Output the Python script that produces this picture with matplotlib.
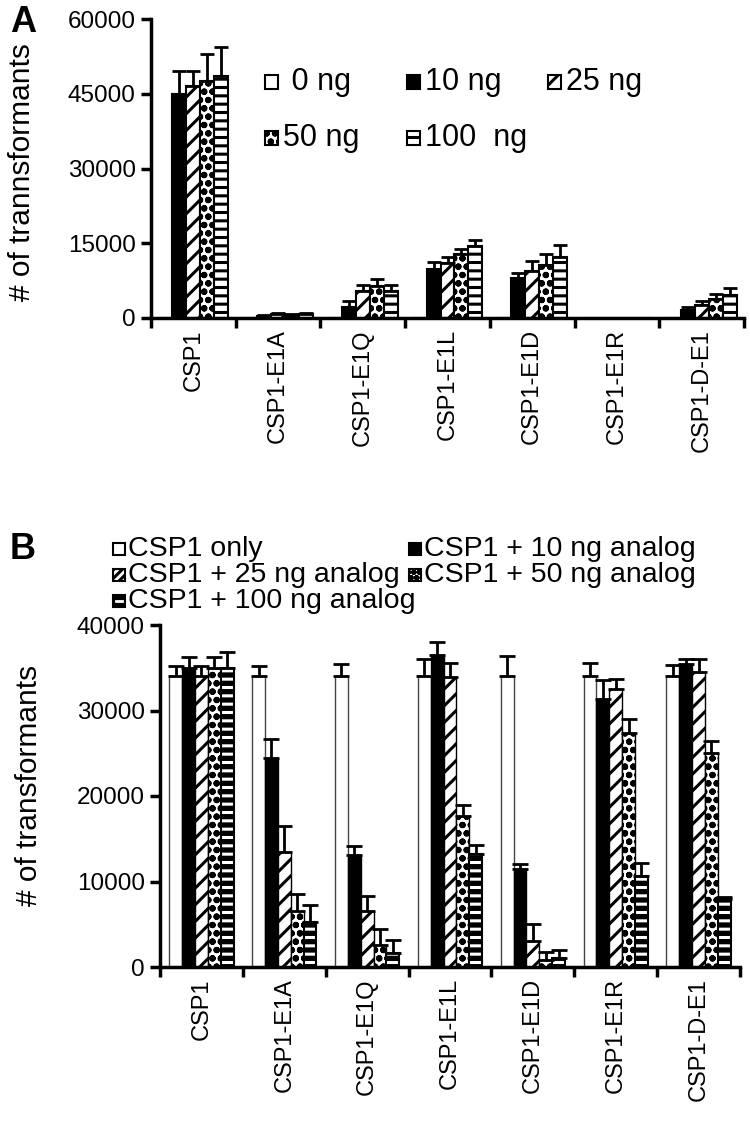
import numpy as np
import matplotlib
matplotlib.use("Agg")
import matplotlib.pyplot as plt
from matplotlib.patches import Rectangle
from matplotlib.lines import Line2D

plt.rcParams["font.family"] = ["Liberation Sans", "DejaVu Sans"]
plt.rcParams["hatch.linewidth"] = 2.2

# ─── DATA ───────────────────────────────────────────────────────────────────

CATEGORIES = ["CSP1", "CSP1-E1A", "CSP1-E1Q", "CSP1-E1L", "CSP1-E1D", "CSP1-E1R", "CSP1-D-E1"]

# Panel A: analog alone, doses 0 / 10 / 25 / 50 / 100 ng
A_LABELS = [" 0 ng", "10 ng", "25 ng", "50 ng", "100  ng"]
A_0NG = [0, 0, 0, 0, 0, 0, 0]
A_10NG = [45000, 400, 2300, 9900, 8100, 0, 1600]
A_25NG = [46500, 800, 5500, 11100, 9400, 0, 2700]
A_50NG = [47500, 700, 6500, 12900, 10700, 0, 3800]
A_100NG = [48500, 800, 5500, 14400, 12200, 0, 4700]
A_0NG_ERR = [0, 0, 0, 0, 0, 0, 0]
A_10NG_ERR = [4500, 150, 1100, 1300, 1000, 0, 600]
A_25NG_ERR = [3000, 150, 1200, 1100, 2000, 0, 800]
A_50NG_ERR = [5500, 150, 1300, 1000, 2200, 0, 1000]
A_100NG_ERR = [5800, 150, 1100, 1200, 2500, 0, 1300]

# Panel B: CSP1 plus analog
B_LABELS = ["CSP1 only", "CSP1 + 10 ng analog", "CSP1 + 25 ng analog",
            "CSP1 + 50 ng analog", "CSP1 + 100 ng analog"]
B_ONLY = [34000, 34000, 34000, 34000, 34000, 34000, 34000]
B_10NG = [35000, 24500, 13100, 36500, 11500, 31400, 35400]
B_25NG = [34000, 13500, 6500, 33900, 3000, 32500, 34500]
B_50NG = [35000, 6500, 2600, 17700, 800, 27400, 25000]
B_100NG = [35000, 5300, 1600, 13200, 1000, 10700, 8000]
B_ONLY_ERR = [1200, 1200, 1400, 2000, 2400, 1600, 1300]
B_10NG_ERR = [1200, 2200, 1000, 1500, 500, 2200, 600]
B_25NG_ERR = [1200, 3000, 1800, 1700, 2000, 1200, 1500]
B_50NG_ERR = [1300, 2000, 1800, 1200, 1000, 1600, 1400]
B_100NG_ERR = [1800, 1900, 1500, 1100, 1000, 1500, 200]

W, H = 750, 1142
FS_TICK = 17.5
FS_CAT = 17
FS_YLAB = 21.5


def style_axes(ax, ymax, step):
    n = len(CATEGORIES)
    ax.set_xlim(0, n)
    ax.set_ylim(0, ymax)
    ax.set_yticks(np.arange(0, ymax + 1, step))
    for s in ["top", "right"]:
        ax.spines[s].set_visible(False)
    for s in ["left", "bottom"]:
        ax.spines[s].set_linewidth(2.5)
    ax.set_xticks(np.arange(0, n + 1))
    ax.set_xticklabels([])
    ax.set_xticks(np.arange(n) + 0.5, minor=True)
    ax.set_xticklabels(CATEGORIES, minor=True, rotation=90, fontsize=FS_CAT)
    ax.tick_params(axis="x", which="major", direction="out", length=7, width=2.5)
    ax.tick_params(axis="x", which="minor", length=0, pad=8)
    ax.tick_params(axis="y", direction="out", length=7, width=2.5, labelsize=FS_TICK, pad=4)


def legend_box(px, py, size, style, fontsize, label, text_dx):
    # px, py: left / vertical centre of the key in pixel coords (top-left origin)
    x0, y0 = px / W, 1 - (py + size / 2) / H
    fig.add_artist(Rectangle((x0, y0), size / W, size / H, transform=fig.transFigure,
                             facecolor=style["facecolor"], hatch=style.get("hatch"),
                             edgecolor="black", linewidth=0))
    if style.get("dash"):
        fig.add_artist(Line2D([(px + 3) / W, (px + size - 3) / W], [1 - py / H] * 2,
                              transform=fig.transFigure, color="white", linewidth=2))
    fig.add_artist(Rectangle((x0, y0), size / W, size / H, transform=fig.transFigure,
                             fill=False, edgecolor="black", linewidth=1.5))
    fig.text((px + size + text_dx) / W, 1 - py / H, label, fontsize=fontsize, va="center")


fig = plt.figure(figsize=(W / 100, H / 100), dpi=100)
x = np.arange(len(CATEGORIES)) + 0.5

# ─── PANEL A ────────────────────────────────────────────────────────────────
axA = fig.add_axes([151 / W, 1 - 318 / H, 593 / W, 299 / H])
wA = 0.165
a_series = [A_0NG, A_10NG, A_25NG, A_50NG, A_100NG]
a_errs = [A_0NG_ERR, A_10NG_ERR, A_25NG_ERR, A_50NG_ERR, A_100NG_ERR]
a_styles = [dict(facecolor="white", hatch=None),
            dict(facecolor="black", hatch=None),
            dict(facecolor="white", hatch="//"),
            dict(facecolor="white", hatch="oo"),
            dict(facecolor="white", hatch="--")]
for i, (vals, err, st) in enumerate(zip(a_series, a_errs, a_styles)):
    yerr = np.vstack([np.zeros(len(err)), err])
    axA.bar(x + (i - 2) * wA, vals, wA, yerr=yerr, edgecolor="black", linewidth=1.5,
            error_kw=dict(elinewidth=2, capsize=5, capthick=2, ecolor="black"), **st)
style_axes(axA, 60000, 15000)
axA.set_ylabel("# of trannsformants", fontsize=FS_YLAB)
axA.yaxis.set_label_coords((36 - 151) / 593, (318 - 172) / 299)

# legend A: key left x, row centre y (pixels)
a_keys = [(265, 82), (407, 82), (548, 82), (265, 138), (407, 138)]
for (px, py), st, lab in zip(a_keys, a_styles, A_LABELS):
    legend_box(px, py, 13, st, 22, lab, 5)

# ─── PANEL B ────────────────────────────────────────────────────────────────
axB = fig.add_axes([160 / W, 1 - 967 / H, 580 / W, 342 / H])
wB = 0.155
b_series = [B_ONLY, B_10NG, B_25NG, B_50NG, B_100NG]
b_errs = [B_ONLY_ERR, B_10NG_ERR, B_25NG_ERR, B_50NG_ERR, B_100NG_ERR]
b_styles = [dict(facecolor="white", hatch=None, edgecolor="#444444"),
            dict(facecolor="black", hatch=None, edgecolor="black"),
            dict(facecolor="white", hatch="//", edgecolor="black"),
            dict(facecolor="white", hatch="oo", edgecolor="black"),
            dict(facecolor="black", hatch="--", edgecolor="white")]
ekw = dict(elinewidth=2, capsize=6, capthick=2, ecolor="black")
for i, (vals, err, st) in enumerate(zip(b_series, b_errs, b_styles)):
    yerr = np.vstack([np.zeros(len(err)), err])
    pos = x + (i - 2) * wB
    if i == 4:
        axB.bar(pos, vals, wB, linewidth=0, **st)
        axB.bar(pos, vals, wB, fill=False, edgecolor="black", linewidth=1.5,
                yerr=yerr, error_kw=ekw)
    else:
        axB.bar(pos, vals, wB, linewidth=1.0, yerr=yerr, error_kw=ekw, **st)
style_axes(axB, 40000, 10000)
axB.set_ylabel("# of transformants", fontsize=FS_YLAB)
axB.yaxis.set_label_coords((43 - 160) / 580, (967 - 785) / 342)

b_keys = [(113, 549), (409, 549), (113, 575), (409, 575), (113, 601)]
b_leg_styles = [dict(facecolor="white"), dict(facecolor="black"),
                dict(facecolor="white", hatch="////"), dict(facecolor="white", hatch="ooo"),
                dict(facecolor="black", dash=True)]
for (px, py), st, lab in zip(b_keys, b_leg_styles, B_LABELS):
    legend_box(px, py, 12, st, 20.5, lab, 3)

fig.text(10 / W, 1 - 22 / H, "A", fontsize=26, fontweight="bold", va="center")
fig.text(10 / W, 1 - 550 / H, "B", fontsize=26, fontweight="bold", va="center")

fig.savefig("out.png", dpi=100)
